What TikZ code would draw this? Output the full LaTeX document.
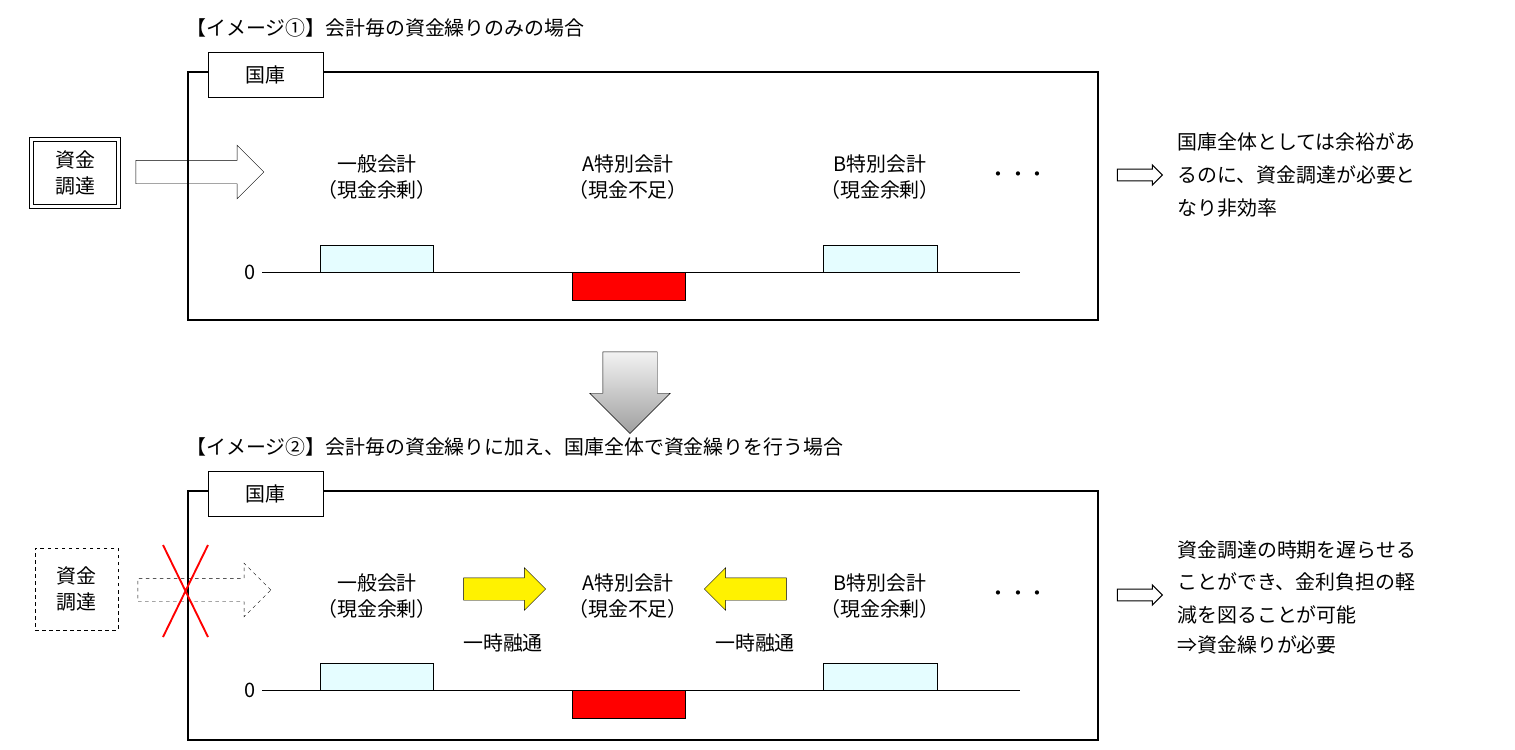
\documentclass[tikz,border=0pt]{standalone}
\usepackage{fontspec}
\setmainfont{Noto Sans CJK JP}
\usetikzlibrary{positioning,shapes.arrows}
\tikzset{
    txt/.style={font=\fontsize{17}{22}\selectfont, inner sep=1pt},
    frame/.style={draw, line width=1pt},
    tab/.style={draw, fill=white, minimum width=3.45cm, minimum height=1.35cm, txt},
    bar/.style={draw, line width=0.6pt},
    note/.style={txt, anchor=west}
}
\begin{document}
\begin{tikzpicture}[x=0.03cm, y=-0.03cm,
    fatarrow/.style={single arrow, draw, inner sep=0.345cm, single arrow head extend=0.45cm,
        minimum width=1.59cm},
    thinarrow/.style={single arrow, draw, line width=0.9pt, inner sep=0.15cm,
        single arrow head extend=0.12cm, minimum width=0.6cm, minimum height=1.35cm},
    yelarrow/.style={single arrow, draw, fill=yellow, inner sep=0.33cm,
        single arrow head extend=0.3cm, minimum width=1.26cm, minimum height=2.46cm}]

\useasboundingbox (0,0) rectangle (1515,749);

% image 1
\node [txt, anchor=west] (title1) at (185,28) {【イメージ①】会計毎の資金繰りのみの場合};
\draw [frame] (188,72) rectangle (1098,320);
\node [tab] (tab1) at (265.5,74.5) {国庫};

\node [draw, double, double distance=2pt, line width=1pt, minimum width=2.6cm,
    minimum height=2.0cm, txt, align=center] (fund1) at (75,173) {資金\\調達};
\node [fatarrow, minimum height=3.84cm] (in1) at (194,172) {};

\node [txt, align=center] (gen1) at (377,177) {一般会計\\（現金余剰）};
\node [txt, align=center] (spa1) at (628,177) {A特別会計\\（現金不足）};
\node [txt, align=center] (spb1) at (880,177) {B特別会計\\（現金余剰）};
\node [txt] (dots1) at (1018,177) {・・・};

\node [txt, anchor=east] (zero1) at (257,272) {0};
\draw (262,272) -- (1020,272);
\draw [bar, fill=blue!8!cyan!10] (320,245) rectangle (433,272);
\draw [bar, fill=red] (572,272) rectangle (685,300);
\draw [bar, fill=blue!8!cyan!10] (823,245) rectangle (937,272);

\node [thinarrow] (out1) at (1137,175) {};
\node [note] (res1a) at (1176,142) {国庫全体としては余裕があ};
\node [note] (res1b) at (1176,175) {るのに、資金調達が必要と};
\node [note] (res1c) at (1176,208) {なり非効率};

% transition
\node [single arrow, draw, shape border rotate=270, inner sep=0.81cm,
    single arrow head extend=0.39cm, minimum width=2.4cm, minimum height=2.37cm,
    top color=gray!10, bottom color=gray!75] (down) at (630,379) {};

% image 2
\node [txt, anchor=west] (title2) at (185,447) {【イメージ②】会計毎の資金繰りに加え、国庫全体で資金繰りを行う場合};
\draw [frame] (188,491) rectangle (1098,740);
\node [tab] (tab2) at (265.5,493.5) {国庫};

\node [draw, dashed, line width=0.7pt, minimum width=2.49cm, minimum height=2.46cm,
    txt, align=center] (fund2) at (76.5,589) {資金\\調達};
\node [fatarrow, dashed, minimum height=3.99cm] (in2) at (198.5,590) {};
\draw [red, line width=1.6pt] (163,545) -- (208,637) (208,545) -- (163,637);

\node [txt, align=center] (gen2) at (377,596) {一般会計\\（現金余剰）};
\node [txt, align=center] (spa2) at (628,596) {A特別会計\\（現金不足）};
\node [txt, align=center] (spb2) at (880,596) {B特別会計\\（現金余剰）};
\node [txt] (dots2) at (1018,596) {・・・};

\node [yelarrow] (lend1) at (499,589) {};
\node [yelarrow, shape border rotate=180] (lend2) at (751,589) {};
\node [txt] (lbl1) at (503,643) {一時融通};
\node [txt] (lbl2) at (755,643) {一時融通};

\node [txt, anchor=east] (zero2) at (257,690) {0};
\draw (262,690) -- (1020,690);
\draw [bar, fill=blue!8!cyan!10] (320,663) rectangle (433,690);
\draw [bar, fill=red] (572,690) rectangle (685,718);
\draw [bar, fill=blue!8!cyan!10] (823,663) rectangle (937,690);

\node [thinarrow] (out2) at (1137,595) {};
\node [note] (res2a) at (1176,550) {資金調達の時期を遅らせる};
\node [note] (res2b) at (1176,582) {ことができ、金利負担の軽};
\node [note] (res2c) at (1176,615) {減を図ることが可能};
\node [note] (res2d) at (1176,645) {⇒資金繰りが必要};

\end{tikzpicture}
\end{document}
